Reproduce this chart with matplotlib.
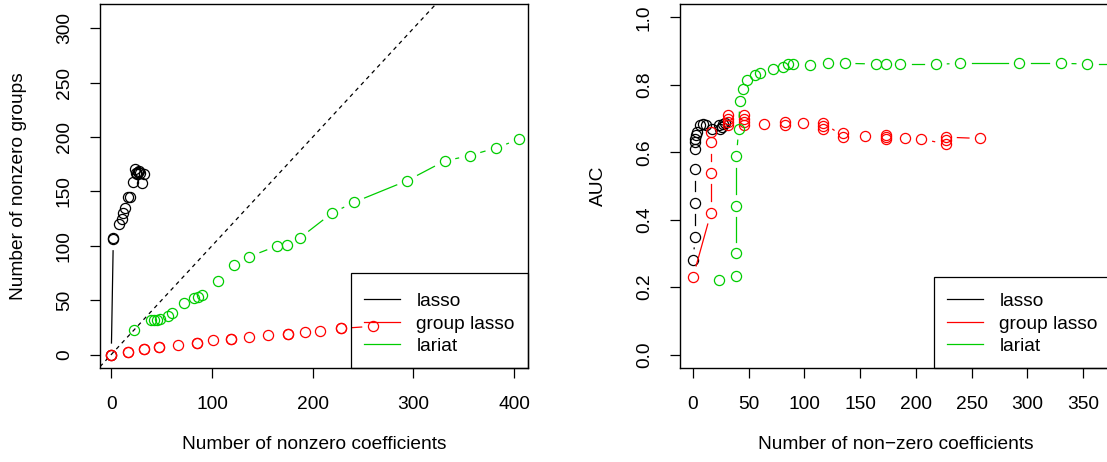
import numpy as np
import matplotlib
matplotlib.use("Agg")
import matplotlib.pyplot as plt
from matplotlib.lines import Line2D
from matplotlib.patches import Rectangle

plt.rcParams["font.family"] = ["Liberation Sans", "DejaVu Sans"]
plt.rcParams["font.size"] = 13.8

# left panel: nonzero coefficients vs nonzero groups
lasso_coef = [0, 2, 2, 8, 11, 12, 14, 17, 19, 22, 24, 25, 26, 27, 28, 29, 31, 32]
lasso_grp = [0, 106, 107, 120, 125, 130, 135, 145, 145, 159, 171, 167, 166, 168, 169, 167, 158, 166]

group_coef = [0, 0, 17, 17, 32, 32, 47, 47, 66, 85, 85, 101, 119, 119, 137, 156, 175, 175, 192, 207, 228, 228, 260]
group_grp = [0, 0, 2, 2, 5, 5, 7, 7, 9, 11, 11, 13, 14, 14, 16, 18, 19, 19, 21, 22, 24, 24, 26]

lariat_coef = [23, 39, 42, 45, 48, 56, 60, 72, 82, 86, 90, 106, 122, 137, 165, 174, 187, 219, 241, 294, 331, 356, 382, 405]
lariat_grp = [23, 32, 32, 32, 33, 35, 38, 47, 52, 53, 55, 68, 82, 90, 100, 101, 107, 130, 140, 160, 178, 183, 190, 198]

# right panel: nonzero coefficients vs AUC
lasso_x = [0, 2, 2, 2, 2, 2, 2, 3, 4, 6, 9, 12, 17, 23, 24, 26, 27, 29]
lasso_auc = [0.28, 0.35, 0.45, 0.55, 0.61, 0.63, 0.64, 0.65, 0.66, 0.68, 0.684, 0.68, 0.67,
             0.68, 0.67, 0.676, 0.684, 0.688]

group_x = [0, 16, 16, 16, 16, 31, 31, 31, 31, 46, 46, 46, 46, 64, 83, 83, 99, 117, 117, 117,
           135, 135, 154, 173, 173, 173, 190, 205, 227, 227, 227, 258]
group_auc = [0.23, 0.42, 0.54, 0.63, 0.66, 0.68, 0.69, 0.70, 0.71, 0.68, 0.69, 0.70, 0.71, 0.684,
             0.68, 0.69, 0.686, 0.668, 0.678, 0.688, 0.646, 0.656, 0.648, 0.638, 0.644, 0.65,
             0.641, 0.639, 0.625, 0.636, 0.645, 0.641]

lariat_x = [23, 39, 39, 39, 39, 41, 42, 45, 48, 56, 60, 72, 81, 85, 90, 105, 121, 136, 164, 173,
            186, 218, 240, 293, 330, 354, 382, 408]
lariat_auc = [0.22, 0.233, 0.30, 0.441, 0.589, 0.67, 0.753, 0.787, 0.815, 0.829, 0.836, 0.847,
              0.854, 0.862, 0.861, 0.859, 0.864, 0.864, 0.862, 0.861, 0.861, 0.861, 0.864,
              0.864, 0.864, 0.862, 0.862, 0.862]

labels = ["lasso", "group lasso", "lariat"]
colors = ["black", "#FF0000", "#00CD00"]


def draw_b(ax, x, y, color, gap=11.5):
    """Points plus connecting lines with a gap around each point (like R type='b')."""
    ax.plot(x, y, linestyle="none", marker="o", ms=7.3, mfc="none", mec=color, mew=0.9)
    pts = ax.transData.transform(np.column_stack([x, y]))
    inv = ax.transData.inverted()
    for p0, p1 in zip(pts[:-1], pts[1:]):
        d = p1 - p0
        length = np.hypot(d[0], d[1])
        if length <= 2 * gap:
            continue
        u = d / length
        a = inv.transform(p0 + u * gap)
        b = inv.transform(p1 - u * gap)
        ax.plot([a[0], b[0]], [a[1], b[1]], color=color, lw=0.9)


def style_axes(ax):
    for s in ax.spines.values():
        s.set_linewidth(1.0)
    ax.tick_params(length=7.5, width=0.9, labelsize=13.8)
    ax.tick_params(axis="x", pad=13)
    ax.tick_params(axis="y", pad=12)
    for lab in ax.get_yticklabels():
        lab.set_rotation(90)
        lab.set_va("center")
    handles = [Line2D([], [], color=c, lw=0.9) for c in colors]
    leg = ax.legend(handles, labels, loc="lower right", borderaxespad=0, frameon=False,
                    handlelength=1.9, handletextpad=0.85,
                    borderpad=0.68, labelspacing=0.26, fontsize=13.8)
    return leg


def legend_box(fig, ax, leg, extra_top=7):
    # R-style box: a bit more room above the first entry than below the last
    fig.canvas.draw()
    bb = leg.get_window_extent()
    inv = ax.transAxes.inverted()
    (x0, y0), (x1, y1) = inv.transform([[bb.x0, bb.y0], [bb.x1, bb.y1 + extra_top]])
    ax.add_patch(Rectangle((x0, y0), x1 - x0, y1 - y0, transform=ax.transAxes,
                           fill=False, edgecolor="black", lw=0.9, clip_on=False, zorder=5))


fig = plt.figure(figsize=(11.07, 4.62), dpi=100)

# left panel
ax1 = fig.add_axes([100 / 1107, 94 / 462, 428 / 1107, 364 / 462])
ax1.set_xlim(-11.2, 413.8)
ax1.set_ylim(-12.4, 322.4)
ax1.set_xticks([0, 100, 200, 300, 400])
ax1.set_yticks([0, 50, 100, 150, 200, 250, 300])
ax1.axline((0, 0), slope=1, color="black", lw=0.9, ls=(0, (3.2, 3.2)))
draw_b(ax1, lasso_coef, lasso_grp, colors[0])
draw_b(ax1, group_coef, group_grp, colors[1])
draw_b(ax1, lariat_coef, lariat_grp, colors[2])
ax1.set_xlabel("Number of nonzero coefficients", labelpad=16)
ax1.set_ylabel("Number of nonzero groups", labelpad=21)
leg1 = style_axes(ax1)

# right panel (runs past the right edge of the figure, as in the original)
ax2 = fig.add_axes([680 / 1107, 94 / 462, 431 / 1107, 364 / 462])
ax2.set_xlim(-11.7, 375.2)
ax2.set_ylim(-0.04, 1.04)
ax2.set_xticks([0, 50, 100, 150, 200, 250, 300, 350])
ax2.set_yticks([0.0, 0.2, 0.4, 0.6, 0.8, 1.0])
ax2.set_yticklabels(["0.0", "0.2", "0.4", "0.6", "0.8", "1.0"])
draw_b(ax2, lasso_x, lasso_auc, colors[0])
draw_b(ax2, group_x, group_auc, colors[1])
draw_b(ax2, lariat_x, lariat_auc, colors[2])
ax2.set_xlabel("Number of non\u2212zero coefficients", labelpad=16)
ax2.set_ylabel("AUC", labelpad=21)
leg2 = style_axes(ax2)

legend_box(fig, ax1, leg1)
legend_box(fig, ax2, leg2, extra_top=3)

fig.savefig("out.png", dpi=100)
